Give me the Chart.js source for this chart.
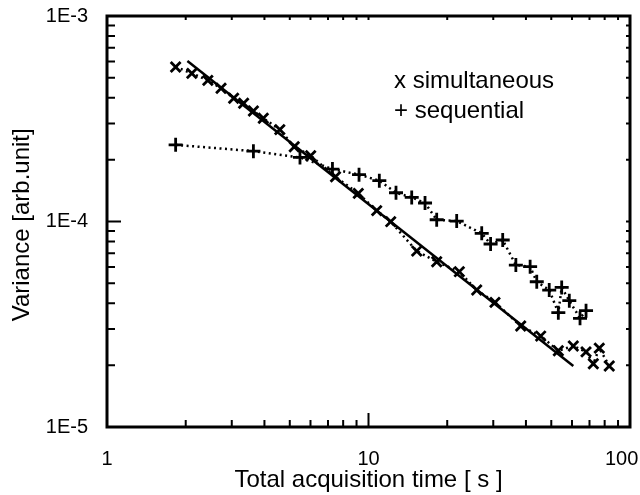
<!DOCTYPE html>
<html>
<head>
<meta charset="utf-8">
<script src="https://cdn.jsdelivr.net/npm/chart.js@4"></script>
<style>
  html, body { margin: 0; padding: 0; background: #fff; }
</style>
</head>
<body>
<canvas id="myChart" width="640" height="495"></canvas>
<script>
const simTime = [1.83, 2.11, 2.43, 2.73, 3.05, 3.33, 3.63, 3.96, 4.58, 5.20, 6.01, 7.48, 9.14, 10.75, 12.16, 15.29, 18.23, 22.25, 25.93, 30.46, 38.2, 45.55, 53.2, 60.7, 67.9, 72.4, 76.3, 83.3];
const simVar = [5.65e-4, 5.26e-4, 4.86e-4, 4.45e-4, 3.98e-4, 3.76e-4, 3.45e-4, 3.18e-4, 2.80e-4, 2.31e-4, 2.09e-4, 1.65e-4, 1.37e-4, 1.13e-4, 9.98e-5, 7.18e-5, 6.37e-5, 5.70e-5, 4.64e-5, 4.04e-5, 3.10e-5, 2.77e-5, 2.35e-5, 2.48e-5, 2.32e-5, 2.03e-5, 2.42e-5, 1.98e-5];

const seqTime = [1.83, 3.63, 5.47, 7.28, 9.20, 11.0, 12.74, 14.63, 16.45, 18.23, 21.74, 27.1, 29.3, 32.6, 36.6, 41.5, 44.0, 49.1, 53.2, 54.8, 58.6, 64.4, 67.9];
const seqVar = [2.36e-4, 2.20e-4, 2.05e-4, 1.80e-4, 1.69e-4, 1.58e-4, 1.38e-4, 1.31e-4, 1.23e-4, 1.02e-4, 1.005e-4, 8.76e-5, 7.77e-5, 8.13e-5, 6.14e-5, 6.03e-5, 5.09e-5, 4.64e-5, 3.60e-5, 4.78e-5, 4.12e-5, 3.38e-5, 3.68e-5];

// 직선 fit
const fitTime = [2.03, 60.7];
const fitVar = [6.04e-4, 1.98e-5];

// 눈금
const xTicks = [1, 2, 3, 4, 5, 6, 7, 8, 9, 10, 20, 30, 40, 50, 60, 70, 80, 90, 100];
const xTickLabels = { 1: '1', 10: '10', 100: '100   ' };   // 100은 오른쪽 끝이라 왼쪽으로 밀어줌
const yTicks = [1e-5, 2e-5, 3e-5, 4e-5, 5e-5, 6e-5, 7e-5, 8e-5, 9e-5, 1e-4, 2e-4, 3e-4, 4e-4, 5e-4, 6e-4, 7e-4, 8e-4, 9e-4, 1e-3];
const yTickLabels = ['1E-5', '1E-4', '1E-3'];
const legendLines = ['x simultaneous', '+ sequential'];

const FONT = "'Liberation Sans', Arial, sans-serif";

function toPoints(xs, ys) {
  return xs.map((x, i) => ({ x: x, y: ys[i] }));
}
function isDecade(v) {
  const l = Math.log10(v);
  return Math.abs(l - Math.round(l)) < 1e-9;
}

// 테두리 + 안쪽 눈금
const frameTicks = {
  id: 'frameTicks',
  afterDraw(chart) {
    const { ctx, chartArea: a, scales: { x, y } } = chart;
    ctx.save();
    ctx.strokeStyle = '#000';
    ctx.lineWidth = 2;
    ctx.beginPath();
    xTicks.forEach(v => {
      if (v === 1 || v === 100) return;
      const px = x.getPixelForValue(v);
      const len = isDecade(v) ? 14 : 7;
      ctx.moveTo(px, a.bottom); ctx.lineTo(px, a.bottom - len);
      ctx.moveTo(px, a.top); ctx.lineTo(px, a.top + 4);
    });
    yTicks.forEach(v => {
      if (v === 1e-5 || v === 1e-3) return;
      const py = y.getPixelForValue(v);
      const len = isDecade(v) ? 14 : 8;
      ctx.moveTo(a.left, py); ctx.lineTo(a.left + len, py);
      ctx.moveTo(a.right, py); ctx.lineTo(a.right - 4, py);
    });
    ctx.stroke();
    ctx.lineWidth = 3;
    ctx.strokeRect(a.left, a.top, a.right - a.left, a.bottom - a.top);
    ctx.restore();
  }
};

// 범례 글자
const legendText = {
  id: 'legendText',
  afterDraw(chart) {
    const ctx = chart.ctx;
    ctx.save();
    ctx.fillStyle = '#000';
    ctx.font = '24px ' + FONT;
    ctx.textBaseline = 'middle';
    ctx.fillText(legendLines[0], 394, 81);
    ctx.fillText(legendLines[1], 394, 111);
    ctx.restore();
  }
};

const chartArea = document.getElementById('myChart').getContext('2d');

const myChart = new Chart(chartArea, {
  type: 'scatter',
  data: {
    datasets: [
      {
        label: 'fit',
        data: toPoints(fitTime, fitVar),
        showLine: true,
        borderColor: '#000',
        borderWidth: 2.5,
        pointRadius: 0
      },
      {
        label: 'simultaneous',
        data: toPoints(simTime, simVar),
        showLine: true,
        borderColor: '#000',
        backgroundColor: '#000',
        borderWidth: 2.5,
        borderDash: [2, 3.5],
        pointStyle: 'crossRot',
        pointRadius: 7,
        pointBorderWidth: 2.8
      },
      {
        label: 'sequential',
        data: toPoints(seqTime, seqVar),
        showLine: true,
        borderColor: '#000',
        backgroundColor: '#000',
        borderWidth: 2.5,
        borderDash: [2, 3.5],
        pointStyle: 'cross',
        pointRadius: 7,
        pointBorderWidth: 2.8
      }
    ]
  },
  options: {
    responsive: false,
    animation: false,
    events: [],
    layout: { padding: { left: 0, top: 16, right: 10, bottom: 0 } },
    plugins: {
      legend: { display: false },
      tooltip: { enabled: false }
    },
    scales: {
      x: {
        type: 'logarithmic',
        min: 1,
        max: 100,
        grid: { display: false },
        border: { display: false },
        afterBuildTicks: s => { s.ticks = xTicks.map(v => ({ value: v })); },
        afterFit: s => { s.height = 68; s.paddingLeft = 0; s.paddingRight = 0; },
        ticks: {
          autoSkip: false,
          maxRotation: 0,
          padding: 12,
          color: '#000',
          font: { family: FONT, size: 20 },
          callback: v => xTickLabels[v] || ''
        },
        title: {
          display: true,
          text: 'Total acquisition time [ s ]',
          color: '#000',
          font: { family: FONT, size: 24 },
          padding: { top: 0, bottom: 0 }
        }
      },
      y: {
        type: 'logarithmic',
        min: 1e-5,
        max: 1e-3,
        grid: { display: false },
        border: { display: false },
        afterBuildTicks: s => { s.ticks = yTicks.map(v => ({ value: v })); },
        afterFit: s => { s.width = 107; s.paddingTop = 0; s.paddingBottom = 0; },
        ticks: {
          autoSkip: false,
          padding: 11,
          color: '#000',
          font: { family: FONT, size: 20 },
          callback: v => isDecade(v) ? yTickLabels[Math.round(Math.log10(v)) + 5] : ''
        },
        title: {
          display: true,
          text: 'Variance [arb.unit] ',
          color: '#000',
          font: { family: FONT, size: 24 },
          padding: { top: 8, bottom: 0 }
        }
      }
    }
  },
  plugins: [frameTicks, legendText]
});
</script>
</body>
</html>
